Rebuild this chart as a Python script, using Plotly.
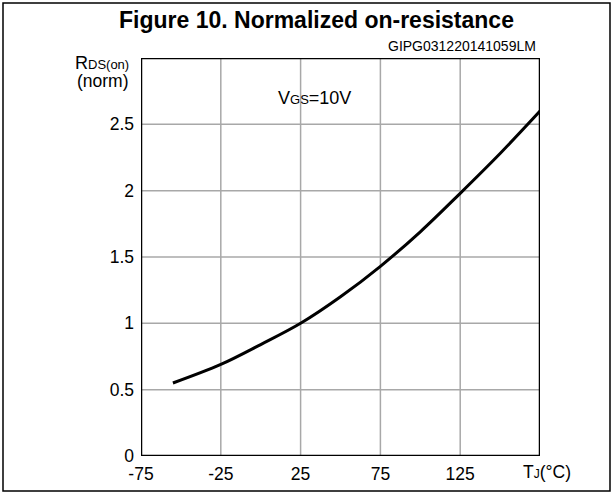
import plotly.graph_objects as go

# Data
tj = [-55, -25, 0, 25, 50, 75, 100, 125, 150, 175]
rds_norm = [0.55, 0.69, 0.84, 1.0, 1.20, 1.43, 1.69, 1.98, 2.28, 2.60]

x_tickvals = [-75, -25, 25, 75, 125]
x_ticktext = ["-75", "-25", "25", "75", "125"]
y_tickvals = [0, 0.5, 1, 1.5, 2, 2.5]
y_ticktext = ["0", "0.5", "1", "1.5", "2", "2.5"]

W, H = 611, 493
L, R, T, B = 141, 540, 58, 456

def px(x):
    return (x - L) / (R - L)

def py(y):
    return (B - y) / (B - T)

FONT = "Liberation Sans, Arial, sans-serif"
FS = 17.5

fig = go.Figure()
fig.add_trace(go.Scatter(
    x=tj, y=rds_norm, mode="lines",
    line=dict(color="black", width=3, shape="spline", smoothing=1.0),
    showlegend=False, hoverinfo="skip",
))

fig.update_layout(
    width=W, height=H,
    margin=dict(l=L, r=W - R, t=T, b=H - B, pad=0),
    paper_bgcolor="white", plot_bgcolor="white",
    font=dict(family=FONT, size=FS, color="black"),
    xaxis=dict(
        range=[-75, 175], tickvals=x_tickvals, ticktext=x_ticktext,
        showgrid=False, zeroline=False, ticks="", ticklen=0,
        showline=False, tickfont=dict(size=FS), automargin=False,
        ticklabelstandoff=5,
    ),
    yaxis=dict(
        range=[0, 3], tickvals=y_tickvals, ticktext=y_ticktext,
        showgrid=False, zeroline=False, ticks="", ticklen=0,
        showline=False, tickfont=dict(size=FS), automargin=False,
        ticklabelstandoff=6,
    ),
)

# gridlines
for xv in [-25, 25, 75, 125]:
    fig.add_shape(type="line", xref="x", yref="y", x0=xv, x1=xv, y0=0, y1=3,
                  line=dict(color="#a8a8a8", width=1.5), layer="below")
for yv in [0.5, 1, 1.5, 2, 2.5]:
    fig.add_shape(type="line", xref="x", yref="y", x0=-75, x1=175, y0=yv, y1=yv,
                  line=dict(color="#a8a8a8", width=1.5), layer="below")

# plot frame
fig.add_shape(type="rect", xref="x", yref="y", x0=-75, x1=175, y0=0, y1=3,
              line=dict(color="black", width=2.5), fillcolor="rgba(0,0,0,0)", layer="above")

# outer border
fig.add_shape(type="rect", xref="paper", yref="paper",
              x0=px(3), x1=px(610), y0=py(491), y1=py(3),
              line=dict(color="black", width=1.5), fillcolor="rgba(0,0,0,0)")

ann = []
ann.append(dict(text="<b>Figure 10. Normalized on-resistance</b>", x=px(316), y=py(20),
                xanchor="center", yanchor="middle", font=dict(size=23)))
ann.append(dict(text="GIPG031220141059LM", x=px(538), y=py(46),
                xanchor="right", yanchor="middle", font=dict(size=14)))
ann.append(dict(text="R<span style='font-size:13px'>DS(on)</span>", x=px(131), y=py(63),
                xanchor="right", yanchor="middle", font=dict(size=18)))
ann.append(dict(text="(norm)", x=px(131), y=py(81),
                xanchor="right", yanchor="middle", font=dict(size=FS)))
ann.append(dict(text="V<span style='font-size:13px'>GS</span>=10V", x=px(276), y=py(98),
                xanchor="left", yanchor="middle", font=dict(size=18)))
ann.append(dict(text="T<span style='font-size:12px'>J</span>(°C)", x=px(573), y=py(472),
                xanchor="right", yanchor="middle", font=dict(size=FS)))
for a in ann:
    a.update(xref="paper", yref="paper", showarrow=False)
fig.update_layout(annotations=ann)

fig.write_html("out.html", config={"displayModeBar": False},
               post_script="document.body.style.margin='0';")
